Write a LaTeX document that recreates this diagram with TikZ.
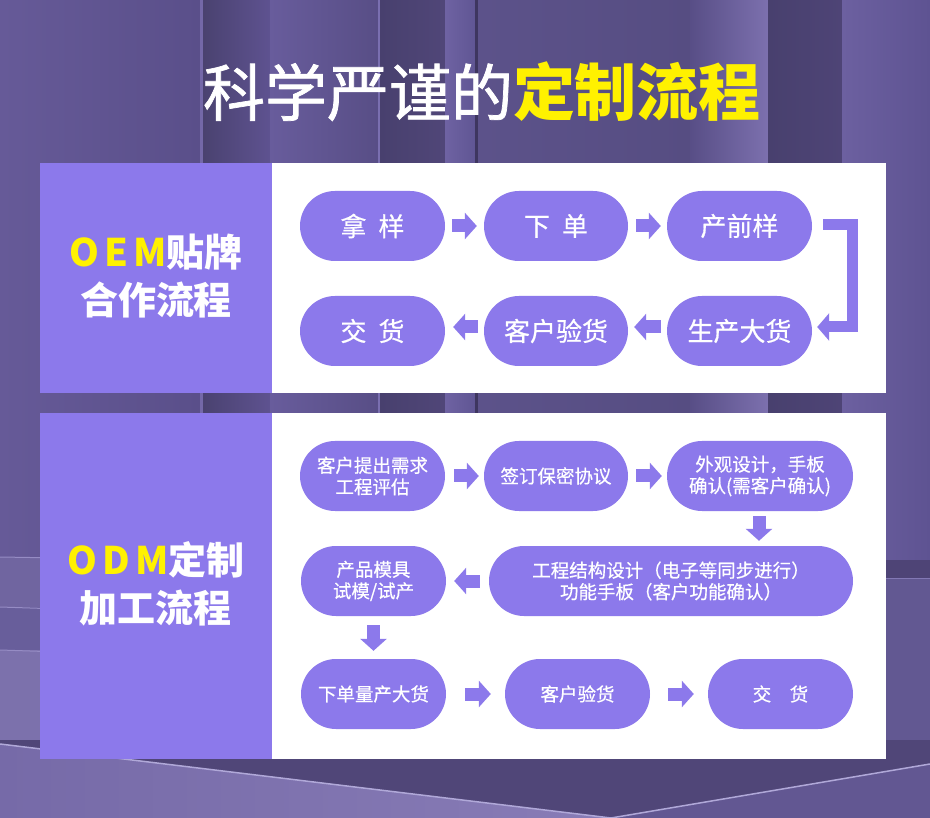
\documentclass[tikz,border=0pt]{standalone}
\usepackage{fontspec}
\setmainfont{Noto Sans CJK SC}
\newfontfamily\medfont[FakeBold=1.2]{Noto Sans CJK SC}
\newfontfamily\pillfont[FakeBold=0.6]{Noto Sans CJK SC}
\usetikzlibrary{arrows.meta,calc}
\definecolor{pur}{RGB}{140,121,235}
\definecolor{ylw}{RGB}{255,241,0}
\definecolor{bgA}{RGB}{88,78,134}
\definecolor{c1}{RGB}{102,90,152}
\definecolor{c2}{RGB}{90,79,138}
\definecolor{c3}{RGB}{116,104,168}
\definecolor{c4}{RGB}{74,66,112}
\definecolor{c5}{RGB}{94,82,144}
\definecolor{c6}{RGB}{104,92,156}
\definecolor{c7}{RGB}{88,78,134}
\definecolor{c8}{RGB}{122,111,176}
\definecolor{c9}{RGB}{72,64,110}
\definecolor{c10}{RGB}{80,70,120}
\definecolor{c11}{RGB}{110,98,162}
\definecolor{c12}{RGB}{96,86,148}
\definecolor{c13}{RGB}{62,54,95}
\definecolor{c14}{RGB}{92,82,138}
\definecolor{c15}{RGB}{86,77,130}
\definecolor{c16}{RGB}{124,112,174}
\definecolor{c17}{RGB}{78,68,118}
\definecolor{c18}{RGB}{108,96,160}
\definecolor{c19}{RGB}{94,83,146}
\definecolor{s1}{RGB}{112,101,160}
\definecolor{s2}{RGB}{104,94,155}
\definecolor{s3}{RGB}{124,113,172}
\definecolor{s4}{RGB}{150,140,196}
\definecolor{s5}{RGB}{98,88,146}
\definecolor{s6}{RGB}{130,120,180}
\definecolor{f1}{RGB}{118,106,168}
\definecolor{f2}{RGB}{136,124,182}
\definecolor{f3}{RGB}{98,87,146}
\definecolor{f4}{RGB}{176,168,216}
\tikzset{
  pill/.style={fill=pur, rounded corners=35pt, minimum height=70pt, inner sep=0pt, text=white, align=center},
  bigtxt/.style={font=\pillfont\fontsize{26}{30}\selectfont},
  smalltxt/.style={font=\pillfont\fontsize{18.5}{21.5}\selectfont},
  barrow/.style={draw=pur, line width=13pt, -{Triangle[length=12pt,width=26pt]}},
  bracket/.style={draw=pur, line width=11pt, -{Triangle[length=12pt,width=27pt]}},
  label/.style={text=white, align=center, font=\bfseries\fontsize{38}{48}\selectfont},
}
\begin{document}
\begin{tikzpicture}[x=1pt,y=-1pt]
\useasboundingbox (0,0) rectangle (930,818);
% ---------- background ----------
\fill[bgA] (0,0) rectangle (930,818);
\shade[left color=c1, right color=c2] (0,0) rectangle (200,560);
\fill[c3] (200,0) rectangle (203,560);
\shade[left color=c4, right color=c5] (203,0) rectangle (270,560);
\shade[left color=c6, right color=c7] (270,0) rectangle (378,560);
\fill[c8] (378,0) rectangle (380,560);
\shade[left color=c9, right color=c10] (380,0) rectangle (445,560);
\shade[left color=c11, right color=c12] (445,0) rectangle (475,560);
\fill[c13] (475,0) rectangle (478,560);
\shade[left color=c14, right color=c15] (478,0) rectangle (690,560);
\shade[left color=c7, right color=c16] (690,0) rectangle (768,560);
\shade[left color=c9, right color=c17] (768,0) rectangle (842,560);
\shade[left color=c18, right color=c19] (842,0) rectangle (930,560);
% lower left steps
\fill[s1] (0,557) rectangle (60,607);
\fill[s2] (0,607) rectangle (60,650);
\fill[s3] (0,650) rectangle (60,818);
\draw[s4, line width=1pt] (0,557) -- (60,558) (0,607) -- (60,609) (0,650) -- (60,652) (0,793) -- (60,796);
% lower right
\fill[c17] (870,560) rectangle (930,818);
\fill[s5] (870,578) rectangle (930,818);
\draw[s6, line width=1pt] (870,578) -- (930,578);
% bottom box
\fill[c10] (0,740) rectangle (930,818);
\shade[left color=f1, right color=f2] (0,744) -- (611,818) -- (0,818) -- cycle;
\fill[f3] (611,818) -- (930,764) -- (930,818) -- cycle;
\draw[f4, line width=1.5pt] (0,744) -- (611,818) -- (930,764);
% ---------- title ----------
\node (title) at (482,92) {\fontsize{62}{68}\selectfont{\medfont\color{white}科学严谨的}\textbf{\color{ylw}定制流程}};
% ---------- panel OEM ----------
\fill[pur] (40,163) rectangle (272,393);
\fill[white] (272,163) rectangle (886,393);
\node[label] (oem) at (156,276) {{\color{ylw}O\hspace{5pt}E\hspace{5pt}M}贴牌\\合作流程};
\node[pill, bigtxt, minimum width=145pt] (a1) at (372.5,226) {拿\hspace{12pt}样};
\node[pill, bigtxt, minimum width=144pt] (a2) at (556,226) {下\hspace{12pt}单};
\node[pill, bigtxt, minimum width=145pt] (a3) at (739.5,226) {产前样};
\node[pill, bigtxt, minimum width=145pt] (a4) at (739.5,331) {生产大货};
\node[pill, bigtxt, minimum width=144pt] (a5) at (556,331) {客户验货};
\node[pill, bigtxt, minimum width=145pt] (a6) at (372.5,331) {交\hspace{12pt}货};
\draw[barrow, shorten <=7pt, shorten >=7pt] (a1) -- (a2);
\draw[barrow, shorten <=8pt, shorten >=6pt] (a2) -- (a3);
\draw[bracket] ($(a3.east)+(11,-1)$) -- ++(29,0) |- ($(a4.east)+(5,-4)$);
\draw[barrow, shorten <=6pt, shorten >=6pt] ($(a4.west)+(0,-4)$) -- ($(a5.east)+(0,-4)$);
\draw[barrow, shorten <=6pt, shorten >=8pt] ($(a5.west)+(0,-4)$) -- ($(a6.east)+(0,-4)$);
% ---------- panel ODM ----------
\fill[pur] (40,413) rectangle (272,759);
\fill[white] (272,413) rectangle (886,759);
\node[label] (odm) at (156,584) {{\color{ylw}O\hspace{5pt}D\hspace{5pt}M}定制\\加工流程};
\node[pill, smalltxt, minimum width=145pt] (b1) at (372.5,476) {客户提出需求\\工程评估};
\node[pill, smalltxt, minimum width=144pt] (b2) at (556,476) {签订保密协议};
\node[pill, smalltxt, minimum width=186pt] (b3) at (760,476) {外观设计，手板\\确认(需客户确认)};
\node[pill, smalltxt, minimum width=364pt] (b4) at (671,581) {工程结构设计（电子等同步进行）\\功能手板（客户功能确认）};
\node[pill, smalltxt, minimum width=145pt] (b5) at (373.5,581) {产品模具\\试模/试产};
\node[pill, smalltxt, minimum width=145pt] (b6) at (373.5,694) {下单量产大货};
\node[pill, smalltxt, minimum width=145pt] (b7) at (577.5,694) {客户验货};
\node[pill, smalltxt, minimum width=145pt] (b8) at (780.5,694) {交　货};
\draw[barrow, shorten <=9pt, shorten >=5pt] (b1) -- (b2);
\draw[barrow, shorten <=8pt, shorten >=5pt] (b2) -- (b3);
\draw[barrow, shorten <=5pt, shorten >=5pt] ($(b3.south)+(-1,0)$) -- ($(b3.south |- b4.north)+(-1,0)$);
\draw[barrow, shorten <=9pt, shorten >=8pt] (b4.west) -- (b5.east);
\draw[barrow, shorten <=9pt, shorten >=8pt] (b5.south) -- (b6.north);
\draw[barrow, shorten <=19pt, shorten >=14pt] (b6) -- (b7);
\draw[barrow, shorten <=18pt, shorten >=14pt] (b7) -- (b8);
\end{tikzpicture}
\end{document}
